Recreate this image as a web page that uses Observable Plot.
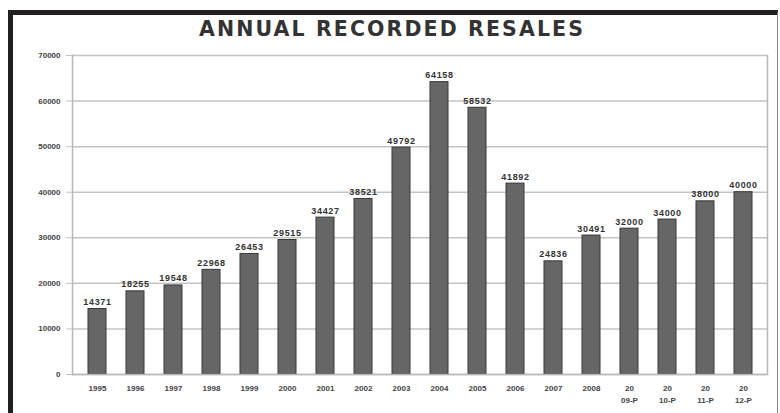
<!DOCTYPE html>
<html>
<head>
<meta charset="utf-8">
<script src="https://cdn.jsdelivr.net/npm/d3@7"></script>
<script src="https://cdn.jsdelivr.net/npm/@observablehq/plot@0.6"></script>
<style>
  html, body { margin: 0; padding: 0; background: #fff; }
  #wrap { position: relative; width: 780px; height: 413px; overflow: hidden; }
  #frame { position: absolute; left: 8px; top: 10px; width: 764px; height: 420px;
           border-top: 5px solid #231f20; border-left: 5px solid #231f20; border-right: 1px solid #888;
           pointer-events: none; }
  #chart { position: absolute; left: 0; top: 0; }
</style>
</head>
<body>
<div id="wrap"><div id="chart"></div><div id="frame"></div></div>
<script>
const title = "ANNUAL RECORDED RESALES";
const categories = ["1995","1996","1997","1998","1999","2000","2001","2002","2003","2004","2005","2006","2007","2008","20\n09-P","20\n10-P","20\n11-P","20\n12-P"];
const resales = [14371, 18255, 19548, 22968, 26453, 29515, 34427, 38521, 49792, 64158, 58532, 41892, 24836, 30491, 32000, 34000, 38000, 40000];
const yTicks = [0, 10000, 20000, 30000, 40000, 50000, 60000, 70000];

const data = categories.map((c, i) => ({category: c, value: resales[i]}));

const chart = Plot.plot({
  width: 780,
  height: 413,
  marginTop: 55,
  marginBottom: 39,
  marginLeft: 72,
  marginRight: 13,
  style: {fontFamily: "Liberation Sans, Arial, sans-serif", background: "transparent"},
  x: {domain: categories, paddingInner: 0.53, paddingOuter: 0.27, label: null},
  y: {domain: [0, 70000], label: null},
  marks: [
    Plot.gridY(yTicks, {stroke: "#c4c4c4", strokeOpacity: 1, strokeWidth: 1.5}),
    Plot.axisY(yTicks, {tickSize: 6, tickPadding: 6, stroke: "#c4c4c4", fill: "#444", fontSize: 8, fontWeight: "bold", tickFormat: d => String(d)}),
    Plot.axisX({tickSize: 0, tickPadding: 9, fill: "#444", fontSize: 8, fontWeight: "bold", lineHeight: 1.4}),
    Plot.barY(data, {x: "category", y: "value", fill: "#666666", stroke: "#383838", strokeWidth: 1}),
    Plot.text(data, {x: "category", y: "value", text: d => String(d.value), lineAnchor: "bottom", dy: -4, fill: "#333", fontSize: 9, fontWeight: "bold"}),
    Plot.frame({stroke: "#b8b8b8", strokeWidth: 1.5, anchor: "left"}),
    Plot.frame({stroke: "#b8b8b8", strokeWidth: 1.5, anchor: "right"}),
    Plot.ruleY([0], {stroke: "#b8b8b8", strokeWidth: 1.5}),
    Plot.text([title], {frameAnchor: "top", lineAnchor: "middle", dy: -26, dx: -28, fill: "#333", fontSize: 20.5, fontWeight: "900", fontFamily: "DejaVu Sans", text: d => d})
  ]
});
chart.querySelectorAll("text").forEach(t => {
  if (t.textContent === title) t.setAttribute("letter-spacing", "2.1");
  else if (/^\d{5}$/.test(t.textContent) && t.closest("g[aria-label='text']")) t.setAttribute("letter-spacing", "0.7");
});
document.getElementById("chart").appendChild(chart);
</script>
</body>
</html>
